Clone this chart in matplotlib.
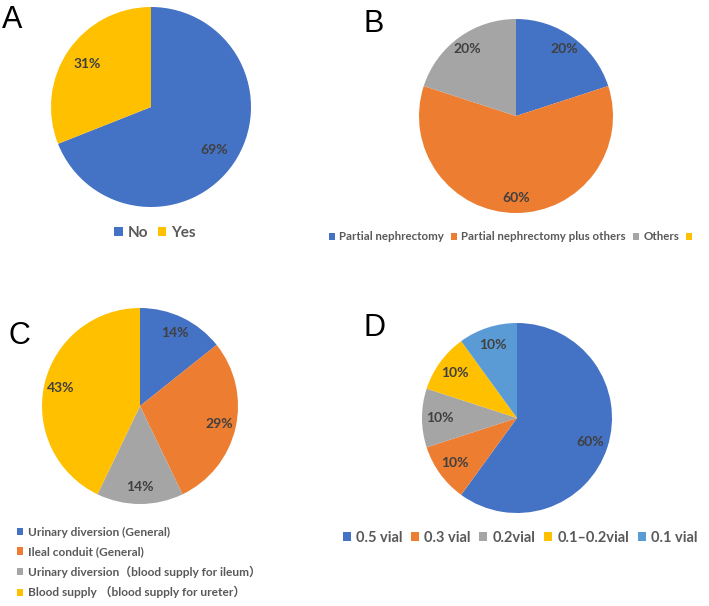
import matplotlib
matplotlib.use('Agg')
import matplotlib.pyplot as plt
from matplotlib.patches import Patch

plt.rcParams['font.family'] = ['Lato', 'Noto Sans CJK SC', 'DejaVu Sans']

# data
a_labels = ['No', 'Yes']
a_values = [69, 31]
a_colors = ['#4472C4', '#FFC000']

b_labels = ['Partial nephrectomy', 'Partial nephrectomy plus others', 'Others', ' ']
b_values = [20, 60, 20, 0]
b_colors = ['#4472C4', '#ED7D31', '#A5A5A5', '#FFC000']

c_labels = ['Urinary diversion (General)', 'Ileal conduit (General)',
            'Urinary diversion（blood supply for ileum）',
            'Blood supply （blood supply for ureter）']
c_values = [1, 2, 1, 3]
c_colors = ['#4472C4', '#ED7D31', '#A5A5A5', '#FFC000']

d_labels = ['0.5 vial', '0.3 vial', '0.2vial', '0.1\u20130.2vial', '0.1 vial']
d_values = [60, 10, 10, 10, 10]
d_colors = ['#4472C4', '#ED7D31', '#A5A5A5', '#FFC000', '#5B9BD5']

W, H = 709, 606
fig = plt.figure(figsize=(W / 100, H / 100), dpi=100)
fig.patch.set_facecolor('white')


def draw_pie(cx, cy, r, values, colors, pctdist):
    ax = fig.add_axes([(cx - r) / W, 1 - (cy + r) / H, 2 * r / W, 2 * r / H])
    keep = [(v, c) for v, c in zip(values, colors) if v > 0]
    ax.pie([k[0] for k in keep], colors=[k[1] for k in keep],
           startangle=90, counterclock=False,
           autopct=lambda p: f'{p:.0f}%', pctdistance=pctdist,
           textprops=dict(color='#404040', fontsize=10, fontweight='bold'),
           wedgeprops=dict(linewidth=0))
    ax.set_xlim(-1, 1)
    ax.set_ylim(-1, 1)
    ax.axis('off')
    return ax


def legend(labels, colors, x, y, ncol, size, **kw):
    handles = [Patch(facecolor=c, edgecolor='none') for c in colors]
    fig.legend(handles, labels, loc=kw.pop('loc', 'center'),
               bbox_to_anchor=(x / W, 1 - y / H), ncol=ncol, frameon=False,
               handlelength=0.55, handleheight=0.55, handletextpad=0.35,
               columnspacing=0.6, labelcolor='#595959',
               prop=dict(size=size, weight='bold'), **kw)


draw_pie(151, 107, 100, a_values, a_colors, 0.77)
legend(a_labels, a_colors, 155, 233, 2, 11)

draw_pie(516, 116, 97, b_values, b_colors, 0.85)
legend(b_labels, b_colors, 514, 237, 4, 8.3)

draw_pie(140, 406, 98, c_values, c_colors, 0.83)
legend(c_labels, c_colors, 6, 516, 1, 8.6, loc='upper left', labelspacing=0.7)

draw_pie(517, 418, 95, d_values, d_colors, 0.81)
legend(d_labels, d_colors, 520, 538, 5, 10.5)

for letter, x, y in [('A', 2, 20), ('B', 364, 24), ('C', 8, 336), ('D', 363, 328)]:
    fig.text(x / W, 1 - y / H, letter, fontsize=22, family='Liberation Sans',
             va='center', ha='left', color='black')

fig.savefig('out.png', dpi=100)
